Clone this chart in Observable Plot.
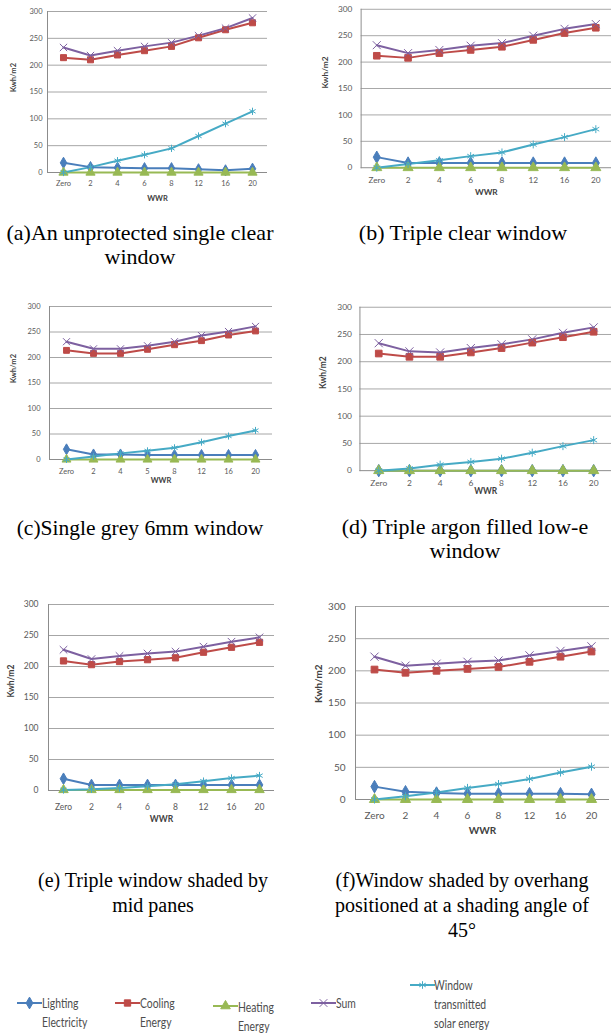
<!DOCTYPE html>
<html><head><meta charset="utf-8">
<script src="https://cdn.jsdelivr.net/npm/d3@7"></script>
<script src="https://cdn.jsdelivr.net/npm/@observablehq/plot@0.6"></script>
<style>
html,body{margin:0;padding:0;background:#fff;}
body{width:611px;height:1036px;position:relative;overflow:hidden;}
.panel{position:absolute;}
.panel svg{overflow:visible;}
.cap{position:absolute;width:340px;font-family:"Liberation Serif","Times New Roman",serif;text-align:center;color:#000;white-space:nowrap;}
.leg{position:absolute;}
.legtxt{position:absolute;font-family:Lato,"Open Sans",sans-serif;font-size:14px;line-height:19px;color:#4d4d4d;transform:scaleX(0.74);transform-origin:left top;white-space:nowrap;}
</style></head>
<body>
<script>
// ---------- data ----------
const series = ["Lighting Electricity","Cooling Energy","Heating Energy","Sum","Window transmitted solar energy"];
const seriesColors = ["#4A7EBB","#BE4B48","#98B954","#7D60A0","#46AAC5"];
const seriesSymbols = ["diamond","square","triangle","times","asterisk"];
const wwr = ["Zero","2","4","6","8","12","16","20"];
const wwrLabelsC = ["Zero","2","4","5","8","12","16","20"];
const yTicks = [0,50,100,150,200,250,300];

// (a) unprotected single clear
const aLighting = [18,10,9,8,8,6,4,7];
const aCooling  = [214,210,219,227,235,251,266,279];
const aHeating  = [0,0,0,0,0,0,0,0];
const aSum      = [233,218,227,235,242,255,269,288];
const aWindow   = [0,10,22,33,45,68,91,114];
// (b) triple clear
const bLighting = [20,9,9,9,9,9,9,9];
const bCooling  = [212,208,217,223,229,242,255,265];
const bHeating  = [0,0,0,0,0,0,0,0];
const bSum      = [232,217,223,231,236,250,263,272];
const bWindow   = [0,7,14,22,29,44,58,73];
// (c) single grey 6mm
const cLighting = [20,10,10,9,9,9,9,9];
const cCooling  = [214,208,208,216,225,233,244,252];
const cHeating  = [0,0,0,0,0,0,0,0];
const cSum      = [231,217,217,223,231,243,251,261];
const cWindow   = [0,6,12,17,23,34,46,57];
// (d) triple argon low-e
const dLighting = [0,0,0,0,0,0,0,0];
const dCooling  = [215,209,209,217,225,235,245,255];
const dHeating  = [0,0,0,0,0,0,0,0];
const dSum      = [234,219,217,225,232,241,253,263];
const dWindow   = [0,4,11,16,22,33,45,56];
// (e) triple shaded by mid panes
const eLighting = [19,9,9,9,9,9,9,9];
const eCooling  = [209,203,208,211,214,223,231,239];
const eHeating  = [1,1,1,1,1,1,1,1];
const eSum      = [227,212,217,221,224,232,240,247];
const eWindow   = [1,2,4,7,10,15,20,24];
// (f) overhang 45°
const fLighting = [20,12,10,9,9,9,9,8];
const fCooling  = [202,197,200,203,206,214,222,230];
const fHeating  = [0,0,0,0,0,0,0,0];
const fSum      = [222,208,211,214,216,224,231,238];
const fWindow   = [0,5,11,18,24,32,42,51];

const legendLabels = [["Lighting","Electricity"],["Cooling","Energy"],["Heating","Energy"],["Sum"],["Window","transmitted","solar energy"]];

// ---------- layout ----------
const panels = [
  {data:[aLighting,aCooling,aHeating,aSum,aWindow], labels:wwr, left:0,   top:0,   w:280, h:210, ml:47, mr:13, mt:11, mb:38, fs:7.5, r:3.4, ypad:5,  xpad:8,  wdy:28, kdx:-34},
  {data:[bLighting,bCooling,bHeating,bSum,bWindow], labels:wwr, left:300, top:0,   w:318, h:210, ml:62, mr:0,  mt:9,  mb:39, fs:8.5, r:3.8, ypad:9,  xpad:10, wdy:28, kdx:-37},
  {data:[cLighting,cCooling,cHeating,cSum,cWindow], labels:wwrLabelsC, left:0, top:280, w:280, h:210, ml:49, mr:8, mt:26, mb:31, fs:7.5, r:3.3, ypad:9, xpad:9, wdy:23, kdx:-36},
  {data:[dLighting,dCooling,dHeating,dSum,dWindow], labels:wwr, left:300, top:280, w:314, h:230, ml:60, mr:0,  mt:27, mb:38, fs:8.5, r:3.8, ypad:8,  xpad:9,  wdy:24, kdx:-37},
  {data:[eLighting,eCooling,eHeating,eSum,eWindow], labels:wwr, left:0,   top:580, w:280, h:240, ml:48, mr:6,  mt:24, mb:30, fs:8.5, r:3.5, ypad:10, xpad:13, wdy:31, kdx:-37},
  {data:[fLighting,fCooling,fHeating,fSum,fWindow], labels:wwr, left:300, top:580, w:311, h:250, ml:55, mr:2,  mt:26, mb:31, fs:10,  r:3.8, ypad:10, xpad:12, wdy:34, kdx:-37}
];

function makePanel(cfg) {
  const rows = [];
  series.forEach((s, i) => cfg.data[i].forEach((v, j) => rows.push({series: s, wwr: wwr[j], value: v})));
  const svg = Plot.plot({
    width: cfg.w, height: cfg.h,
    marginLeft: cfg.ml, marginRight: cfg.mr, marginTop: cfg.mt, marginBottom: cfg.mb,
    style: {fontFamily: "Lato, 'Open Sans', sans-serif", fontSize: cfg.fs + "px", color: "#595959", background: "transparent", overflow: "visible"},
    x: {type: "point", domain: wwr, padding: 0.5, label: null},
    y: {domain: [0, 300], label: null},
    color: {domain: series, range: seriesColors},
    symbol: {domain: series, range: seriesSymbols},
    marks: [
      Plot.ruleY(yTicks.slice(1), {stroke: "#a6a6a6", strokeWidth: 1}),
      Plot.ruleY([0], {stroke: "#8c8c8c", strokeWidth: 1}),
      Plot.frame({anchor: "left", stroke: "#8c8c8c"}),
      Plot.axisY(yTicks, {tickSize: 0, tickPadding: cfg.ypad, label: null, fill: "#595959"}),
      Plot.axisX({tickSize: 0, tickPadding: cfg.xpad, label: null, fill: "#595959", tickFormat: d => cfg.labels[wwr.indexOf(d)]}),
      Plot.line(rows, {x: "wwr", y: "value", z: "series", stroke: "series", strokeWidth: 2}),
      Plot.dot(rows, {x: "wwr", y: "value", symbol: "series", fill: "series", stroke: "series", strokeWidth: 1, r: cfg.r}),
      Plot.text(["Kwh/m2"], {text: d => d, frameAnchor: "left", rotate: -90, dx: cfg.kdx, fontWeight: "bold", fill: "#404040"}),
      Plot.text(["WWR"], {text: d => d, frameAnchor: "bottom", dy: cfg.wdy, fontWeight: "bold", fill: "#404040"})
    ]
  });
  const div = document.createElement("div");
  div.className = "panel";
  div.style.left = cfg.left + "px";
  div.style.top = cfg.top + "px";
  div.appendChild(svg);
  document.body.appendChild(div);
}
panels.forEach(makePanel);

// ---------- captions ----------
const captions = [
  {lines: ["(a)An unprotected single clear", "window"], cx: 140, top: 221, fs: 22, lh: 24},
  {lines: ["(b) Triple clear window"], cx: 463, top: 221, fs: 22, lh: 24},
  {lines: ["(c)Single grey 6mm window"], cx: 140, top: 516, fs: 21.5, lh: 24},
  {lines: ["(d) Triple argon filled low-e", "window"], cx: 465, top: 515, fs: 22, lh: 24},
  {lines: ["(e) Triple window shaded by", "mid panes"], cx: 153, top: 868, fs: 20, lh: 25},
  {lines: ["(f)Window shaded by overhang", "positioned at a shading angle of", "45°"], cx: 462, top: 868, fs: 20, lh: 25}
];
captions.forEach(c => {
  const d = document.createElement("div");
  d.className = "cap";
  d.style.left = (c.cx - 170) + "px";
  d.style.top = c.top + "px";
  d.style.fontSize = c.fs + "px";
  d.style.lineHeight = c.lh + "px";
  c.lines.forEach((l, i) => { if (i) d.appendChild(document.createElement("br")); d.appendChild(document.createTextNode(l)); });
  document.body.appendChild(d);
});

// ---------- legend ----------
const legendPos = [
  {x: 17,  y: 1003, tx: 42,  ty: 993},
  {x: 115, y: 1003, tx: 140, ty: 993},
  {x: 213, y: 1006, tx: 238, ty: 997},
  {x: 311, y: 1003, tx: 336, ty: 993},
  {x: 410, y: 985,  tx: 434, ty: 975}
];
const symbolMap = {diamond: d3.symbolDiamond, square: d3.symbolSquare, triangle: d3.symbolTriangle, times: d3.symbolTimes, asterisk: d3.symbolAsterisk};
series.forEach((s, i) => {
  const p = legendPos[i];
  const sw = d3.create("svg").attr("width", 26).attr("height", 14)
    .style("position", "absolute").style("left", p.x + "px").style("top", (p.y - 7) + "px");
  sw.append("line").attr("x1", 0).attr("x2", 25).attr("y1", 7).attr("y2", 7).attr("stroke", seriesColors[i]).attr("stroke-width", 2);
  sw.append("path").attr("transform", "translate(12.5,7)")
    .attr("d", d3.symbol(symbolMap[seriesSymbols[i]], 40)())
    .attr("fill", seriesColors[i]).attr("stroke", seriesColors[i]).attr("stroke-width", 1);
  document.body.appendChild(sw.node());
  const t = document.createElement("div");
  t.className = "legtxt";
  t.style.left = p.tx + "px";
  t.style.top = p.ty + "px";
  legendLabels[i].forEach((l, j) => { if (j) t.appendChild(document.createElement("br")); t.appendChild(document.createTextNode(l)); });
  document.body.appendChild(t);
});
</script>
</body></html>
